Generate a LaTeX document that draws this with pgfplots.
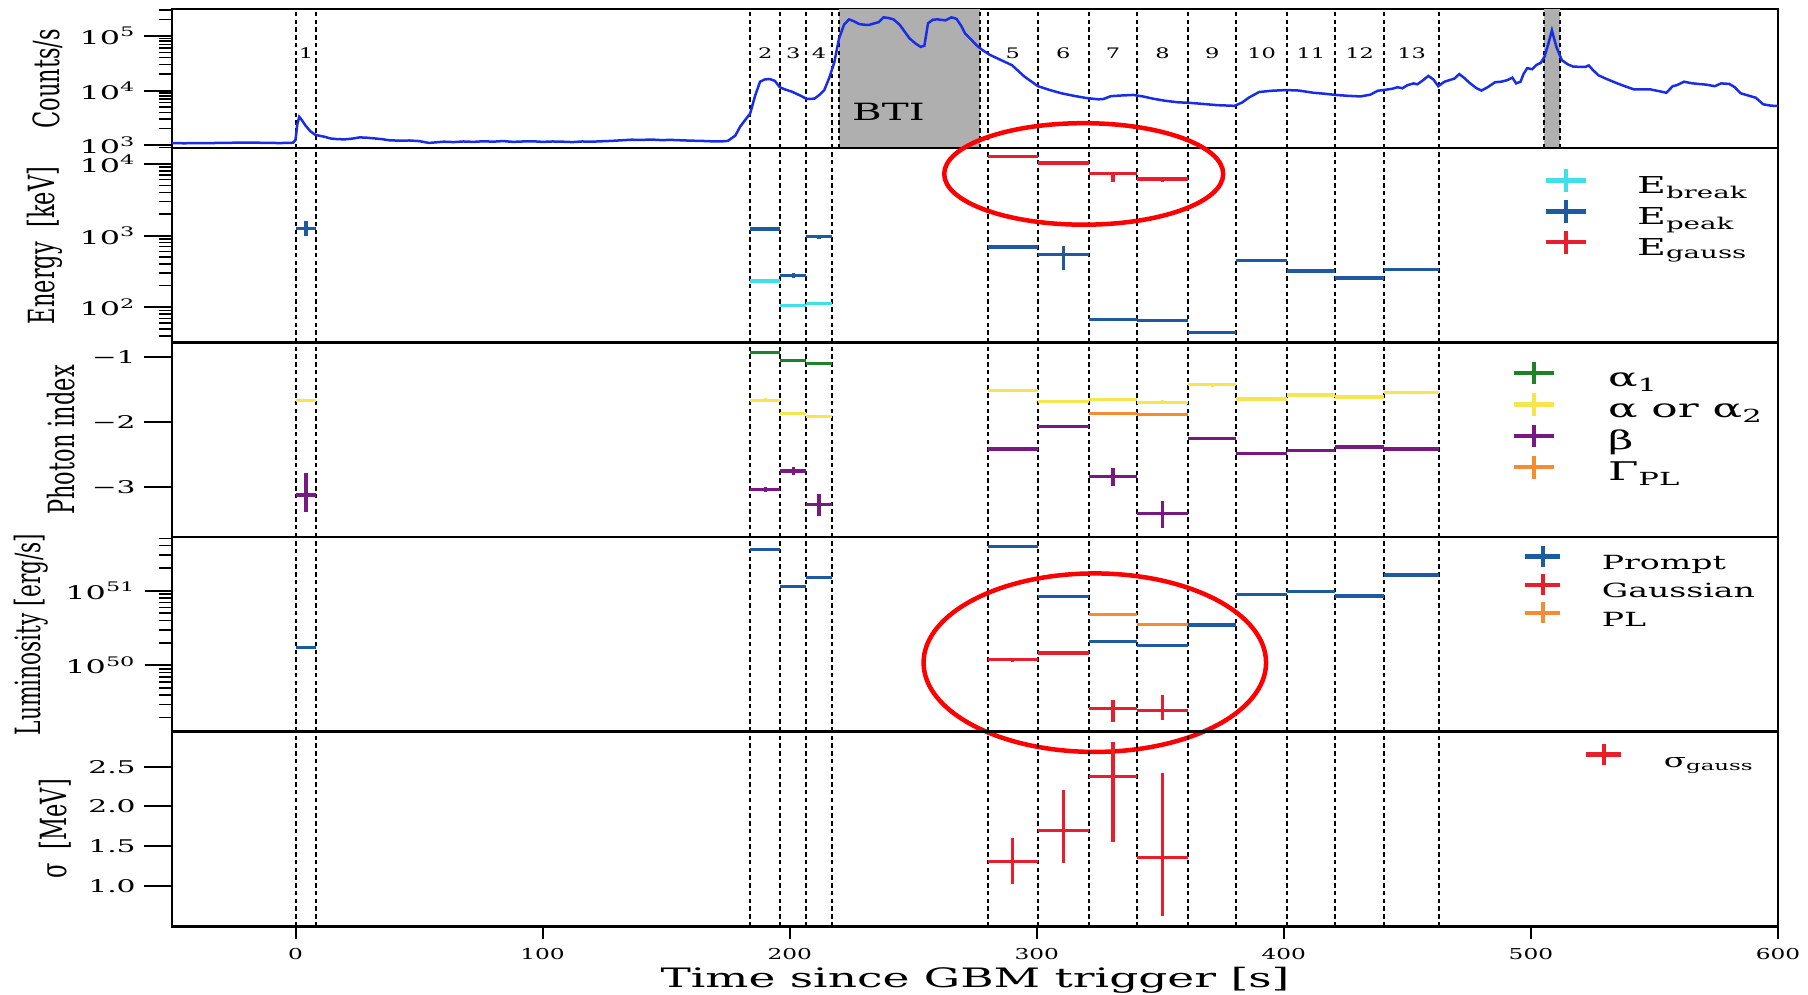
\documentclass[border=0pt]{standalone}
\usepackage{pgfplots}
\pgfplotsset{compat=1.18}
\usepackage{fontspec}
\usepackage{graphicx}
\setmainfont{DejaVu Serif}[FakeStretch=1.7]
\newfontfamily\fA{DejaVu Serif}[FakeStretch=1.55]
\newfontfamily\plainserif{DejaVu Serif}
\definecolor{cCurve}{RGB}{25,45,230}
\definecolor{cBTI}{RGB}{175,175,175}
\definecolor{cBlue}{RGB}{30,90,160}
\definecolor{cCyan}{RGB}{64,224,230}
\definecolor{cRed}{RGB}{232,30,45}
\definecolor{cGreen}{RGB}{30,130,40}
\definecolor{cYellow}{RGB}{245,230,80}
\definecolor{cPurple}{RGB}{120,25,130}
\definecolor{cOrange}{RGB}{245,140,50}
\newcommand{\ylab}[2][9]{\scalebox{1}[1.6]{\plainserif\fontsize{#1}{10}\selectfont #2}}
\tikzset{numlab/.style={font=\fA\fontsize{5.8}{7}\selectfont, fill=white, inner sep=0.6pt}}
\pgfplotsset{
  panel/.style={
    scale only axis, width=642.4pt, xmin=-50, xmax=600,
    anchor=north west, clip=false,
    axis line style={line width=1pt},
    tick align=outside, xtick pos=bottom, ytick pos=left,
    major tick length=11pt, minor tick length=5.2pt,
    major tick style={black, line width=0.8pt},
    minor tick style={black, line width=0.6pt},
    yticklabel style={font=\fontsize{7.5}{8}\selectfont},
    xtick=\empty,
    legend style={draw=none, fill=none, inner sep=0pt, row sep=-0.8pt,
      font=\fontsize{9.3}{10}\selectfont, nodes={inner sep=0pt, text height=6.5pt, text depth=2.5pt}},
    legend cell align=left,
  },
  vline/.style={black, line width=0.8pt, dash pattern=on 1.8pt off 1.3pt, forget plot},
  ebar/.style={draw=none, mark=none, forget plot,
    error bars/.cd, x dir=both, x explicit, y dir=both, y explicit,
    error mark=none, error bar style={draw=#1, line width=1.3pt, solid}},
  plusleg/.style n args={4}{legend image code/.code={%
    \draw[draw=#1, line width=1.7pt] (0pt,3.3pt-#3) -- (0pt,3.3pt+#3) (-#4,3.3pt) -- (#4,3.3pt);
    \path[draw=none,fill=none] (-#4,3.3pt) -- (#2,3.3pt);}},
}
\newcommand{\vlines}[2]{%
  \pgfplotsinvokeforeach{0,8.4,184,196.2,206.7,217,280.2,300.3,321.2,340.5,361.2,380.8,401.2,420.7,440.6,462.8}{%
    \addplot[vline] coordinates {(##1,#1) (##1,#2)};}}
\begin{document}
\begin{tikzpicture}
\useasboundingbox (-68.8pt,3.6pt) rectangle (654.4pt,-394.4pt);
% ---------------- Panel 1: counts ----------------
\begin{axis}[panel, at={(0pt,0pt)}, height=55.7pt, ymode=log, ymin=880, ymax=3.1e5,
  ytick={1e3,1e4,1e5}, yticklabels={10\textsuperscript{3},10\textsuperscript{4},10\textsuperscript{5}},
  minor ytick={900,2000,3000,4000,5000,6000,7000,8000,9000,20000,30000,40000,50000,60000,70000,80000,90000,200000,300000},
  ylabel={\ylab{Counts/s}}]
\addplot[fill=cBTI, draw=none, forget plot] coordinates {(219.8,880) (277,880) (277,3.1e5) (219.8,3.1e5)};
\addplot[fill=cBTI, draw=none, forget plot] coordinates {(505.4,880) (511.6,880) (511.6,3.1e5) (505.4,3.1e5)};
\vlines{880}{3.1e5}
\pgfplotsinvokeforeach{219.8,277,505.4,511.6}{\addplot[vline] coordinates {(#1,880) (#1,3.1e5)};}
\addplot[cCurve, line width=1pt, forget plot] coordinates {
(-50,1090) (-45,1085) (-40,1090) (-35,1095) (-30,1100) (-25,1110) (-20,1120) (-15,1110) (-10,1100) (-6,1095) (-3,1105) (-1,1110)
(0,1250) (0.7,2400) (1.5,3300) (2.5,2900) (4,2300) (6,1800) (8,1550) (10,1480) (12,1420) (14,1330) (17,1290) (20,1280) (23,1320)
(26,1390) (29,1370) (32,1330) (35,1290) (38,1230) (42,1210) (46,1220) (50,1190) (54,1100) (57,1130) (60,1160) (64,1140) (68,1170)
(72,1150) (76,1180) (80,1160) (84,1190) (88,1150) (92,1170) (96,1180) (100,1150) (104,1170) (108,1160) (112,1140) (116,1170)
(120,1160) (124,1180) (128,1200) (132,1230) (136,1260) (140,1250) (144,1270) (148,1240) (152,1250) (156,1230) (160,1210)
(164,1200) (168,1180) (172,1170) (175,1200) (178,1500) (180,2200) (182,2900) (184,3800) (186,8000) (188,14500) (190,16000)
(192,16200) (194,15000) (196,11500) (198,10500) (201,9500) (204,8200) (207,7000) (210,7100) (212,8300) (214,10200) (216,17000)
(218,32000) (220,90000) (222,160000) (224,200000) (226,185000) (228,165000) (230,160000) (232,158000) (234,168000) (236,178000)
(238,218000) (240,212000) (242,200000) (244.5,160000) (246.5,120000) (248.5,90000) (251,72000) (253,63000) (254.5,66000)
(256,170000) (258,198000) (260,200000) (263,192000) (265.5,218000) (267.5,205000) (269.5,150000) (271,110000) (273,90000)
(275.5,68000) (278,55000) (281,45000) (285,37000) (290,29000) (295,18000) (300.5,12000) (305,10300) (310,8900) (315,8000)
(320,7300) (325,6900) (327,7000) (330,7900) (334,8100) (339,8300) (343,7800) (347,7100) (352,6500) (357,6100) (362,5950)
(367,5700) (373,5400) (380,5250) (383,6000) (386,7500) (390,9400) (395,9900) (401,10200) (406,10000) (412,9100) (417,8700)
(421,8300) (426,8000) (431,7800) (435,8400) (438,9900) (441,10300) (444,10800) (446,11500) (448,11000) (450,12500) (452.5,13500)
(454,13000) (456,15000) (458.5,18500) (460.5,16000) (462.5,12000) (465,14500) (467,15500) (469,16500) (471,20000) (473,17000)
(475,14000) (478,11000) (480,10000) (482.5,11500) (485.5,14200) (488,14500) (490.5,15500) (492.5,17200) (494,13500) (495.8,14500)
(497,20000) (498.5,25700) (500.5,24500) (502.3,29500) (504,32000) (505.5,41700) (507,70000) (508.5,126000) (510.3,63000)
(512.5,36000) (515,30000) (517,27500) (520,27000) (522,27000) (523.4,28800) (525,24000) (527.3,19000) (531,16000) (535,13500)
(538,12000) (541.7,10500) (545,10500) (548.3,10500) (552,9700) (554.8,9100) (557.4,12000) (559,12500) (562,14500) (565,13600)
(567.8,13200) (571,12800) (574.4,12000) (577,13500) (580.3,13200) (582.5,11500) (584.9,8900) (588.8,7900) (591,7400) (594,5600)
(597,5300) (600,5200)};
\node[numlab] at (axis cs:4.2,4.8e4) {1};
\node[numlab] at (axis cs:190.1,4.8e4) {2};
\node[numlab] at (axis cs:201.45,4.8e4) {3};
\node[numlab] at (axis cs:211.85,4.8e4) {4};
\node[numlab] at (axis cs:290.25,4.8e4) {5};
\node[numlab] at (axis cs:310.75,4.8e4) {6};
\node[numlab] at (axis cs:330.85,4.8e4) {7};
\node[numlab] at (axis cs:350.85,4.8e4) {8};
\node[numlab] at (axis cs:371,4.8e4) {9};
\node[numlab] at (axis cs:391,4.8e4) {10};
\node[numlab] at (axis cs:410.95,4.8e4) {11};
\node[numlab] at (axis cs:430.65,4.8e4) {12};
\node[numlab] at (axis cs:451.7,4.8e4) {13};
\node[font=\fontsize{9.5}{11}\selectfont] at (axis cs:240,4100) {BTI};
\end{axis}
% ---------------- Panel 2: energy ----------------
\begin{axis}[panel, at={(0pt,-55.7pt)}, height=77.8pt, ymode=log, ymin=32, ymax=1.65e4,
  ytick={1e2,1e3,1e4}, yticklabels={10\textsuperscript{2},10\textsuperscript{3},10\textsuperscript{4}},
  minor ytick={40,50,60,70,80,90,200,300,400,500,600,700,800,900,2000,3000,4000,5000,6000,7000,8000,9000},
  ylabel={\ylab{Energy\ \ [keV]}},
  legend style={at={(0.854,0.905)}, anchor=north west}]
\vlines{32}{1.65e4}
\addplot[ebar=cCyan] coordinates {(190.1,233) +- (6.1,15) (201.45,105) +- (5.25,5) (211.85,114) +- (5.15,5)};
\addplot[ebar=cBlue] coordinates {
 (4.2,1265) += (4.2,335) -= (4.2,295)
 (190.1,1230) +- (6.1,20) (201.45,280) +- (5.25,25) (211.85,960) +- (5.15,70)
 (290.25,690) +- (10.05,10) (310.75,550) += (10.45,160) -= (10.45,220)
 (330.85,67) +- (9.65,1) (350.85,65) +- (10.35,1) (371,45) +- (9.8,1)
 (391,450) +- (10.2,5) (410.95,320) +- (9.75,4) (430.65,255) +- (9.95,3) (451.7,340) +- (11.1,4)};
\addplot[ebar=cRed] coordinates {
 (290.25,12600) +- (10.05,100) (310.75,10300) +- (10.45,100)
 (330.85,7400) += (9.65,200) -= (9.65,1800) (350.85,6150) += (10.35,100) -= (10.35,650)};
\addlegendimage{plusleg={cCyan}{28.4pt}{4.5pt}{8pt}}\addlegendentry{E\textsubscript{break}}
\addlegendimage{plusleg={cBlue}{28.4pt}{4.5pt}{8pt}}\addlegendentry{E\textsubscript{peak}}
\addlegendimage{plusleg={cRed}{28.4pt}{4.5pt}{8pt}}\addlegendentry{E\textsubscript{gauss}}
\draw[red, line width=1.8pt] (axis cs:319,7230) ellipse [x radius=55.8pt, y radius=20.3pt];
\end{axis}
% ---------------- Panel 3: photon index ----------------
\begin{axis}[panel, at={(0pt,-133.5pt)}, height=77.8pt, ymin=-3.77, ymax=-0.775,
  ytick={-3,-2,-1}, yticklabels={−3,−2,−1},
  yticklabel style={font=\fontsize{7}{8}\selectfont},
  ylabel={\ylab{Photon index}},
  legend style={at={(0.834,0.915)}, anchor=north west, font=\fontsize{10.3}{11}\selectfont, row sep=-0.6pt}]
\vlines{-3.77}{-0.775}
\addplot[ebar=cGreen] coordinates {(190.1,-0.93) +- (6.1,0.01) (201.45,-1.05) +- (5.25,0.01) (211.85,-1.09) +- (5.15,0.01)};
\addplot[ebar=cYellow] coordinates {
 (4.2,-1.67) +- (4.2,0.01) (190.1,-1.66) +- (6.1,0.03) (201.45,-1.87) +- (5.25,0.02) (211.85,-1.91) +- (5.15,0.01)
 (290.25,-1.51) +- (10.05,0.01) (310.75,-1.68) +- (10.45,0.01) (330.85,-1.65) +- (9.65,0.02) (350.85,-1.69) +- (10.35,0.03)
 (371,-1.42) +- (9.8,0.03) (391,-1.64) +- (10.2,0.01) (410.95,-1.58) +- (9.75,0.01) (430.65,-1.61) +- (9.95,0.01) (451.7,-1.54) +- (11.1,0.01)};
\addplot[ebar=cPurple] coordinates {
 (4.2,-3.12) += (4.2,0.34) -= (4.2,0.26) (190.1,-3.03) +- (6.1,0.04) (201.45,-2.75) +- (5.25,0.06)
 (211.85,-3.26) += (5.15,0.15) -= (5.15,0.19) (290.25,-2.41) +- (10.05,0.01) (310.75,-2.06) +- (10.45,0.01)
 (330.85,-2.83) += (9.65,0.12) -= (9.65,0.15) (350.85,-3.41) += (10.35,0.2) -= (10.35,0.21)
 (371,-2.25) +- (9.8,0.01) (391,-2.48) +- (10.2,0.02) (410.95,-2.43) +- (9.75,0.02) (430.65,-2.38) +- (9.95,0.02) (451.7,-2.41) +- (11.1,0.01)};
\addplot[ebar=cOrange] coordinates {(330.85,-1.86) +- (9.65,0.01) (350.85,-1.88) +- (10.35,0.01)};
\addlegendimage{plusleg={cGreen}{29.6pt}{4.5pt}{8pt}}\addlegendentry{α\textsubscript{1}}
\addlegendimage{plusleg={cYellow}{29.6pt}{4.5pt}{8pt}}\addlegendentry{α or α\textsubscript{2}}
\addlegendimage{plusleg={cPurple}{29.6pt}{4.5pt}{8pt}}\addlegendentry{β}
\addlegendimage{plusleg={cOrange}{29.6pt}{4.5pt}{8pt}}\addlegendentry{Γ\textsubscript{PL}}
\end{axis}
% ---------------- Panel 4: luminosity ----------------
\begin{axis}[panel, at={(0pt,-211.3pt)}, height=77.8pt, ymode=log, ymin=1.3e49, ymax=5.2e51,
  ytick={1e50,1e51}, yticklabels={10\textsuperscript{50},10\textsuperscript{51}},
  minor ytick={2e49,3e49,4e49,5e49,6e49,7e49,8e49,9e49,2e50,3e50,4e50,5e50,6e50,7e50,8e50,9e50,2e51,3e51,4e51,5e51},
  ylabel={\ylab[8.7]{Luminosity [erg/s]}},
  legend style={at={(0.841,0.968)}, anchor=north west, font=\fontsize{7.8}{9}\selectfont, row sep=-1.6pt}]
\vlines{1.3e49}{5.2e51}
\addplot[ebar=cBlue] coordinates {
 (4.2,1.75e50) +- (4.2,3e48) (190.1,3.55e51) +- (6.1,3e49) (201.45,1.14e51) +- (5.25,1e49) (211.85,1.52e51) +- (5.15,1e49)
 (290.25,3.9e51) +- (10.05,3e49) (310.75,8.3e50) +- (10.45,5e48) (330.85,2.1e50) +- (9.65,1e49) (350.85,1.86e50) +- (10.35,2e48)
 (371,3.47e50) +- (9.8,2e48) (391,8.9e50) +- (10.2,5e48) (410.95,9.8e50) +- (9.75,5e48) (430.65,8.5e50) +- (9.95,5e48) (451.7,1.62e51) +- (11.1,1e49)};
\addplot[ebar=cRed] coordinates {
 (290.25,1.19e50) +- (10.05,8e48) (310.75,1.47e50) +- (10.45,8e48)
 (330.85,2.63e49) += (9.65,8.4e48) -= (9.65,8.5e48) (350.85,2.52e49) += (10.35,1.46e49) -= (10.35,6.6e48)};
\addplot[ebar=cOrange] coordinates {(330.85,4.8e50) +- (9.65,1.5e49) (350.85,3.55e50) +- (10.35,1e49)};
\addlegendimage{plusleg={cBlue}{23.6pt}{4.2pt}{7pt}}\addlegendentry{Prompt}
\addlegendimage{plusleg={cRed}{23.6pt}{4.2pt}{7pt}}\addlegendentry{Gaussian}
\addlegendimage{plusleg={cOrange}{23.6pt}{4.2pt}{7pt}}\addlegendentry{PL}
\draw[red, line width=1.8pt] (axis cs:323.5,1.09e50) ellipse [x radius=68.5pt, y radius=35.7pt];
\end{axis}
% ---------------- Panel 5: sigma ----------------
\begin{axis}[panel, at={(0pt,-289.1pt)}, height=77.8pt, ymin=0.49, ymax=2.94,
  ytick={1,1.5,2,2.5}, yticklabels={1.0,1.5,2.0,2.5},
  yticklabel style={font=\fontsize{7}{8}\selectfont},
  ylabel={\ylab{σ\ \ [MeV]}},
  legend style={at={(0.879,0.95)}, anchor=north west, font=\fontsize{7.7}{9}\selectfont}]
\vlines{0.49}{2.94}
\addplot[ebar=cRed] coordinates {
 (290.25,1.31) += (10.05,0.29) -= (10.05,0.29) (310.75,1.70) += (10.45,0.51) -= (10.45,0.41)
 (330.85,2.38) += (9.65,0.43) -= (9.65,0.83) (350.85,1.355) += (10.35,1.065) -= (10.35,0.73)};
\addlegendimage{plusleg={cRed}{24pt}{4.2pt}{7pt}}\addlegendentry{σ\textsubscript{gauss}}
\end{axis}
% ---------------- x axis ticks and label of the bottom panel ----------------
\begin{axis}[at={(0pt,-289.1pt)}, anchor=north west, scale only axis, width=642.4pt, height=77.8pt,
  xmin=-50, xmax=600, ymin=0, ymax=1, hide y axis,
  axis line style={line width=1pt},
  tick align=outside, xtick pos=bottom,
  major tick length=5.2pt, major tick style={black, line width=0.8pt},
  xtick={0,100,200,300,400,500,600}, xticklabels={0,100,200,300,400,500,600},
  xticklabel style={font=\fA\fontsize{6}{7}\selectfont},
  xlabel={Time since GBM trigger [s]},
  xlabel style={font=\fontsize{10.7}{12}\selectfont, at={(axis description cs:0.5,0)}, anchor=north, inner sep=0pt, yshift=-16pt}]
\end{axis}
\end{tikzpicture}
\end{document}
